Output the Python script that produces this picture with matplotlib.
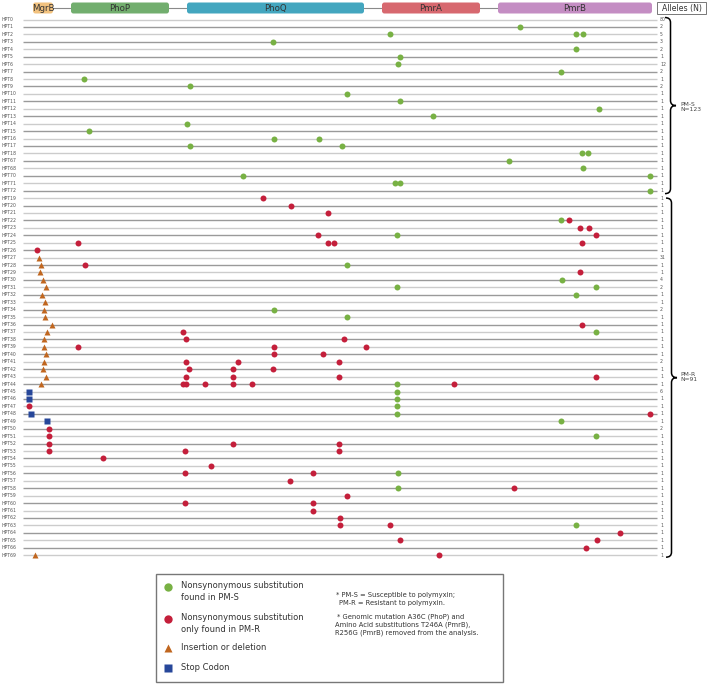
import numpy as np
import matplotlib.pyplot as plt
from matplotlib.patches import FancyBboxPatch, Rectangle, PathPatch
from matplotlib.path import Path

# rows (haplotypes), top to bottom
pms_rows = ["HPT%d" % i for i in range(19)] + ["HPT67", "HPT68", "HPT70", "HPT71", "HPT72"]
pmr_rows = ["HPT%d" % i for i in range(19, 67)] + ["HPT69"]
rows = pms_rows + pmr_rows

pms_alleles = [80, 2, 5, 3, 2, 1, 12, 2, 1, 2] + [1] * 14
pmr_alleles = [1] * 8 + [31, 1, 1, 4, 2, 1, 1, 2] + [1] * 6 + [2] + [1] * 3 + [6] + [1] * 4 + [2] + [1] * 19
alleles = pms_alleles + pmr_alleles

# genes along the concatenated sequence (position units)
genes = ["MgrB", "PhoP", "PhoQ", "PmrA", "PmrB"]
gene_start = [33, 71, 187, 382, 498]
gene_end = [53, 169, 364, 480, 652]
gene_colors = ["#f2c27f", "#72ae6e", "#43a6bf", "#d7686f", "#c48dc3"]

# mutations per row: position along the sequence
green = {
    "HPT1": [520], "HPT2": [390, 576, 583], "HPT3": [273], "HPT4": [576],
    "HPT5": [400], "HPT6": [398], "HPT7": [561], "HPT8": [84], "HPT9": [190],
    "HPT10": [347], "HPT11": [400], "HPT12": [599], "HPT13": [433], "HPT14": [187],
    "HPT15": [89], "HPT16": [274, 319], "HPT17": [190, 342], "HPT18": [582, 588],
    "HPT67": [509], "HPT68": [583], "HPT70": [243, 650], "HPT71": [395, 400],
    "HPT72": [650], "HPT22": [561], "HPT24": [397], "HPT28": [347],
    "HPT30": [562], "HPT31": [397, 596], "HPT32": [576], "HPT34": [274],
    "HPT35": [347], "HPT37": [596], "HPT44": [397], "HPT45": [397], "HPT46": [397],
    "HPT47": [397], "HPT48": [397], "HPT49": [561], "HPT51": [596], "HPT56": [398],
    "HPT58": [398], "HPT63": [576],
}
red = {
    "HPT19": [263], "HPT20": [291], "HPT21": [328], "HPT22": [569], "HPT23": [580, 589],
    "HPT24": [318, 596], "HPT25": [78, 328, 334, 582], "HPT26": [37], "HPT28": [85],
    "HPT29": [580], "HPT36": [582], "HPT37": [183], "HPT38": [186, 344],
    "HPT39": [78, 274, 366], "HPT40": [274, 323], "HPT41": [186, 238, 339],
    "HPT42": [189, 233, 273], "HPT43": [186, 233, 339, 596],
    "HPT44": [183, 186, 205, 233, 252, 454], "HPT47": [29], "HPT48": [650],
    "HPT50": [49], "HPT51": [49], "HPT52": [49, 233, 339], "HPT53": [49, 185, 339],
    "HPT54": [103], "HPT55": [211], "HPT56": [185, 313], "HPT57": [290],
    "HPT58": [514], "HPT59": [347], "HPT60": [185, 313], "HPT61": [313],
    "HPT62": [340], "HPT63": [340, 390], "HPT64": [620], "HPT65": [400, 597],
    "HPT66": [586], "HPT69": [439],
}
indel = {
    "HPT27": [39], "HPT28": [41], "HPT29": [40], "HPT30": [43], "HPT31": [46],
    "HPT32": [42], "HPT33": [45], "HPT34": [44], "HPT35": [45], "HPT36": [52],
    "HPT37": [47], "HPT38": [44], "HPT39": [44], "HPT40": [46], "HPT41": [44],
    "HPT42": [43], "HPT43": [46], "HPT44": [41], "HPT69": [35],
}
stop = {"HPT45": [29], "HPT46": [29], "HPT48": [31], "HPT49": [47]}

GREEN, RED, ORANGE, BLUE = "#78b144", "#c41f3b", "#c0661f", "#27479a"

fig = plt.figure(figsize=(7.09, 6.85), dpi=100)
ax = fig.add_axes([0, 0, 1, 1])
ax.set_xlim(0, 709)
ax.set_ylim(685, 0)
ax.axis("off")

row_top, row_step = 19.5, 7.44
x0, x1 = 22.5, 657
ypos = {name: row_top + row_step * i for i, name in enumerate(rows)}

for i, name in enumerate(rows):
    y = ypos[name]
    col = "#9a9a9a" if i % 2 else "#cccccc"
    ax.plot([x0, x1], [y, y], color=col, lw=1.0, zorder=1, solid_capstyle="butt")
    ax.text(2, y, name, fontsize=3.3, color="#555555", va="center", ha="left")
    ax.text(660, y, str(alleles[i]), fontsize=3.3, color="#555555", va="center", ha="left")

def draw(d, marker, color, size):
    xs, ys = [], []
    for name, pos in d.items():
        for p in pos:
            xs.append(p)
            ys.append(ypos[name])
    ax.plot(xs, ys, ls="none", marker=marker, color=color, ms=size, mec="none", zorder=3)

draw(green, "o", GREEN, 4.3)
draw(red, "o", RED, 4.3)
draw(indel, "^", ORANGE, 4.5)
draw(stop, "s", BLUE, 4.0)

# gene header
hy0, hy1 = 2.5, 13.5
ax.plot([gene_end[0], gene_start[-1]], [(hy0 + hy1) / 2] * 2, color="#8a8a8a", lw=0.8, zorder=1)
for g, s, e, c in zip(genes, gene_start, gene_end, gene_colors):
    ax.add_patch(FancyBboxPatch((s, hy0), e - s, hy1 - hy0,
                                boxstyle="round,pad=0,rounding_size=2.5",
                                fc=c, ec="none", zorder=2))
    ax.text((s + e) / 2, (hy0 + hy1) / 2 + 0.3, g, fontsize=6.2, color="#333333",
            ha="center", va="center", zorder=3)
ax.add_patch(Rectangle((657, 2), 49, 12, fc="white", ec="#777777", lw=0.7))
ax.text(681.5, 8.3, "Alleles (N)", fontsize=5.6, color="#333333", ha="center", va="center")

def brace(xl, ya, yb, w):
    ym = (ya + yb) / 2
    xm = xl + w / 2
    r = 5
    verts = [(xl, ya), (xm, ya), (xm, ya + r), (xm, ya + r + 1),
             (xm, ym - r), (xm, ym), (xl + w, ym),
             (xm, ym), (xm, ym + r), (xm, ym + r + 1),
             (xm, yb - r), (xm, yb), (xl, yb)]
    codes = [Path.MOVETO, Path.CURVE3, Path.CURVE3, Path.LINETO,
             Path.LINETO, Path.CURVE3, Path.CURVE3,
             Path.CURVE3, Path.CURVE3, Path.LINETO,
             Path.LINETO, Path.CURVE3, Path.CURVE3]
    ax.add_patch(PathPatch(Path(verts, codes), fc="none", ec="black", lw=1.1))

brace(665, ypos[pms_rows[0]] - 2, ypos[pms_rows[-1]] + 3, 11)
brace(666, ypos[pmr_rows[0]], ypos[pmr_rows[-1]] + 2, 11)
ax.text(680, (ypos[pms_rows[0]] + ypos[pms_rows[-1]]) / 2 + 2, "PM-S\nN=123",
        fontsize=4.3, color="#444444", va="center", ha="left", linespacing=1.0)
ax.text(680, (ypos[pmr_rows[0]] + ypos[pmr_rows[-1]]) / 2, "PM-R\nN=91",
        fontsize=4.3, color="#444444", va="center", ha="left", linespacing=1.0)

# legend box
ax.add_patch(Rectangle((156, 574), 347, 108, fc="white", ec="#777777", lw=1.0))
lx = 168
ax.plot([lx], [587], "o", color=GREEN, ms=6, mec="none")
ax.plot([lx], [619], "o", color=RED, ms=6, mec="none")
ax.plot([lx], [648], "^", color=ORANGE, ms=6, mec="none")
ax.plot([lx], [668], "s", color=BLUE, ms=5.5, mec="none")
tk = dict(fontsize=6, color="#333333", va="center", ha="left")
ax.text(181, 585, "Nonsynonymous substitution", **tk)
ax.text(181, 598, "found in PM-S", **tk)
ax.text(181, 617, "Nonsynonymous substitution", **tk)
ax.text(181, 630, "only found in PM-R", **tk)
ax.text(181, 648, "Insertion or deletion", **tk)
ax.text(181, 668, "Stop Codon", **tk)
tn = dict(fontsize=4.9, color="#333333", va="center", ha="left")
ax.text(336, 595, "* PM-S = Susceptible to polymyxin;", **tn)
ax.text(339, 603, "PM-R = Resistant to polymyxin.", **tn)
ax.text(337, 617, "* Genomic mutation A36C (PhoP) and", **tn)
ax.text(335, 625, "Amino Acid substitutions T246A (PmrB),", **tn)
ax.text(335, 633, "R256G (PmrB) removed from the analysis.", **tn)

fig.savefig("out.png", dpi=100)
